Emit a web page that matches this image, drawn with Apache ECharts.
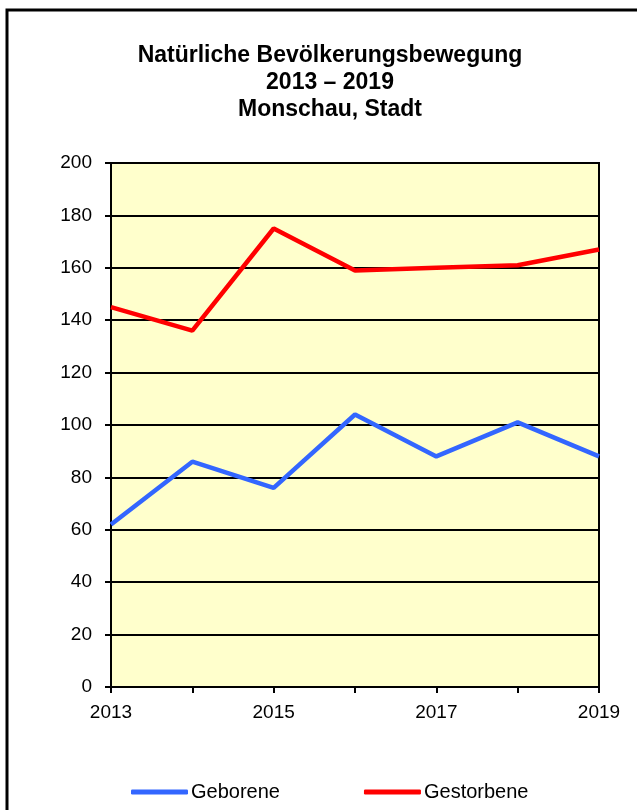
<!DOCTYPE html>
<html>
<head>
<meta charset="utf-8">
<script src="https://cdn.jsdelivr.net/npm/echarts@6/dist/echarts.min.js"></script>
<style>
  html, body { margin: 0; padding: 0; background: #fff; }
  #main { width: 637px; height: 810px; }
</style>
</head>
<body>
<div id="main"></div>
<script>
let years = ['2013', '2014', '2015', '2016', '2017', '2018', '2019']
let geborene = [62, 86, 76, 104, 88, 101, 88]
let gestorbene = [145, 136, 175, 159, 160, 161, 167]
let yTicks = [0, 20, 40, 60, 80, 100, 120, 140, 160, 180, 200]

let font = 'Liberation Sans, Arial, sans-serif'

let option = {
    backgroundColor: '#ffffff',
    animation: false,
    title: {
        text: 'Natürliche Bevölkerungsbewegung\n2013 – 2019\nMonschau, Stadt',
        left: 325,
        textAlign: 'center',
        top: 37,
        textStyle: {
            fontFamily: font,
            fontWeight: 'bold',
            fontSize: 23,
            lineHeight: 27,
            color: '#000',
        },
    },
    graphic: [
        {
            type: 'rect',
            shape: { x: 7, y: 10, width: 640, height: 820 },
            style: { fill: 'none', stroke: '#000', lineWidth: 3 },
            silent: true,
        },
    ],
    grid: {
        left: 111,
        right: 38,
        top: 163,
        bottom: 123,
        show: true,
        backgroundColor: '#FFFFCC',
        borderColor: '#000',
        borderWidth: 2,
    },
    legend: {
        top: 777,
        left: 126,
        itemWidth: 57,
        itemHeight: 5,
        itemGap: 84,
        icon: 'roundRect',
        textStyle: { fontFamily: font, fontSize: 20, color: '#000', padding: [0, 0, 0, -2] },
        data: ['Geborene', 'Gestorbene'],
    },
    xAxis: {
        type: 'category',
        data: years,
        boundaryGap: false,
        axisLine: { lineStyle: { color: '#000', width: 2 } },
        axisTick: { show: true, length: 6, interval: 0, lineStyle: { color: '#000', width: 2 } },
        axisLabel: { interval: 1, color: '#000', fontFamily: font, fontSize: 19, margin: 16 },
        splitLine: { show: false },
    },
    yAxis: {
        type: 'value',
        min: yTicks[0],
        max: yTicks[yTicks.length - 1],
        interval: 20,
        axisLine: { show: true, lineStyle: { color: '#000', width: 2 } },
        axisTick: { show: true, length: 6, lineStyle: { color: '#000', width: 2 } },
        axisLabel: { color: '#000', fontFamily: font, fontSize: 19, margin: 19 },
        splitLine: { show: true, lineStyle: { color: '#000', width: 2 } },
    },
    series: [
        {
            name: 'Geborene',
            type: 'line',
            data: geborene,
            symbol: 'none',
            color: '#3366FF',
            lineStyle: { color: '#3366FF', width: 4.5 },
            z: 3,
        },
        {
            name: 'Gestorbene',
            type: 'line',
            data: gestorbene,
            symbol: 'none',
            color: '#FF0000',
            lineStyle: { color: '#FF0000', width: 4.5 },
            z: 3,
        },
    ],
}

let myChart = echarts.init(document.getElementById('main'))
myChart.setOption(option)
</script>
</body>
</html>
